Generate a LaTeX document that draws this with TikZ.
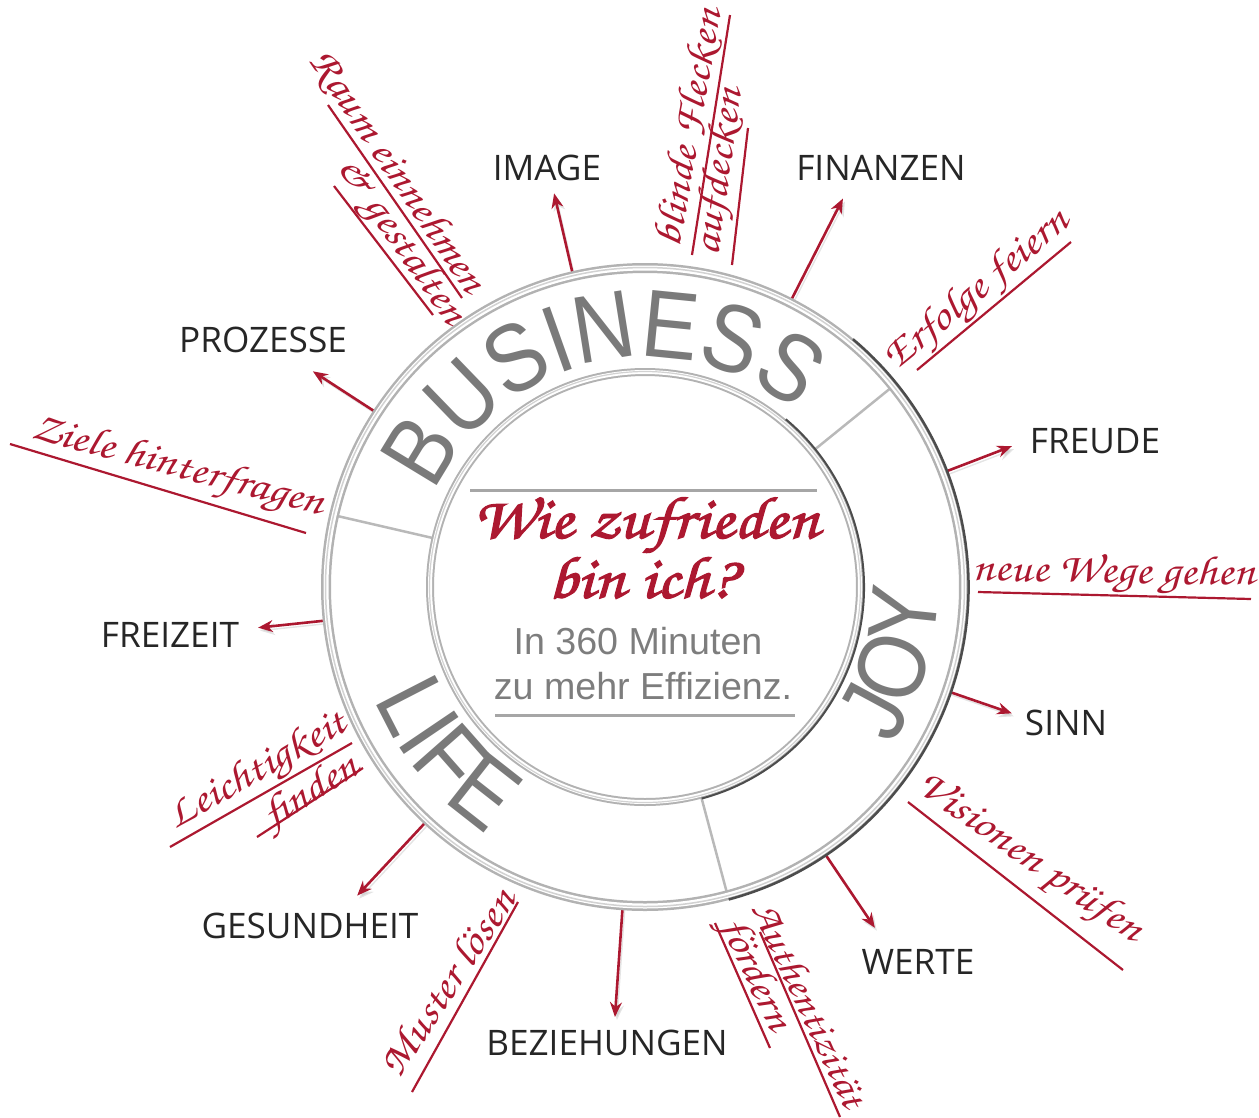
\documentclass[tikz,border=0pt]{standalone}
\usepackage{fontspec}
\setmainfont{Liberation Sans}
\newfontfamily\topicfont{Open Sans}
\newfontfamily\handfont[FakeStretch=1.15]{texgyrechorus-mediumitalic.otf}
\newfontfamily\askfont[FakeStretch=1.15,FakeBold=2]{texgyrechorus-mediumitalic.otf}
\newfontfamily\ringfam[FakeStretch=0.88]{Liberation Sans}
\usetikzlibrary{arrows.meta,calc,decorations.text}

\definecolor{markred}{RGB}{172,24,48}
\definecolor{ringgray}{RGB}{122,122,122}
\definecolor{textgray}{RGB}{125,125,125}
\newcommand\ringfont{\ringfam\fontsize{27.3pt}{30pt}\selectfont}

\begin{document}
\begin{tikzpicture}[x=0.1mm,y=0.1mm]
	\tikzstyle{topic}=[font=\topicfont\fontsize{10pt}{12pt}\selectfont, text=black!85]
	\tikzstyle{note}=[font=\handfont\fontsize{11.7pt}{13pt}\selectfont, text=markred, inner sep=0pt]
	\tikzstyle{noteline}=[draw=markred, line width=0.22mm]
	\tikzstyle{spoke}=[draw=markred, line width=0.26mm, -{Stealth[length=4.2pt,width=3.4pt]},
		preaction={draw=black!30, opacity=0.35, transform canvas={shift={(2,-3)}}}]
	\tikzstyle{divider}=[draw=gray!55, line width=0.25mm]
	\tikzstyle{fieldname}=[decorate, decoration={text along path, text align=center, text color=ringgray}]

	\useasboundingbox (0,0) rectangle (1259,-1118);
	\coordinate (C) at (645,-587);
	\node[circle, minimum size=63.8mm, inner sep=0pt] (ring) at (C) {};
	\node[circle, minimum size=43mm, inner sep=0pt] (core) at (C) {};

	% topics round the ring
	\node[topic] (image) at (547,-168) {IMAGE};
	\node[topic] (finanzen) at (881,-168) {FINANZEN};
	\node[topic] (freude) at (1095,-441) {FREUDE};
	\node[topic] (sinn) at (1066,-723) {SINN};
	\node[topic] (werte) at (918,-962) {WERTE};
	\node[topic] (beziehungen) at (607,-1043) {BEZIEHUNGEN};
	\node[topic] (gesundheit) at (310,-926) {GESUNDHEIT};
	\node[topic] (freizeit) at (170,-635) {FREIZEIT};
	\node[topic] (prozesse) at (263,-340) {PROZESSE};

	\coordinate (t-image) at ($(C)+(103:404)$);
	\coordinate (t-finanzen) at ($(C)+(63:436)$);
	\coordinate (t-freude) at ($(C)+(21:393)$);
	\coordinate (t-sinn) at ($(C)+(341:388)$);
	\coordinate (t-werte) at ($(C)+(304:411)$);
	\coordinate (t-beziehungen) at ($(C)+(266:431)$);
	\coordinate (t-gesundheit) at ($(C)+(227:422)$);
	\coordinate (t-freizeit) at ($(C)+(186:389)$);
	\coordinate (t-prozesse) at ($(C)+(147:396)$);

	\path
	(ring.103) edge[spoke] (t-image)
	(ring.63) edge[spoke] (t-finanzen)
	(ring.21) edge[spoke] (t-freude)
	(ring.341) edge[spoke] (t-sinn)
	(ring.304) edge[spoke] (t-werte)
	(ring.266) edge[spoke] (t-beziehungen)
	(ring.227) edge[spoke] (t-gesundheit)
	(ring.186) edge[spoke] (t-freizeit)
	(ring.147) edge[spoke] (t-prozesse);

	% handwritten notes
	\node[note, rotate=-56] (raum) at (397,-172) {Raum einnehmen};
	\node[note, rotate=-55] (gestalten) at (400,-242) {\& gestalten};
	\draw[noteline] (328,-105) -- (462,-298);
	\draw[noteline] (334,-186) -- (433,-315);
	\node[note, rotate=80] (blinde) at (690,-128) {blinde Flecken};
	\node[note, rotate=82] (aufdecken) at (721,-172) {aufdecken};
	\draw[noteline] (692,-255) -- (730,-15);
	\draw[noteline] (732,-265) -- (748,-128);
	\node[note, rotate=40] (erfolge) at (978,-291) {Erfolge feiern};
	\draw[noteline] (917,-370) -- (1071,-242);
	\node[note, rotate=-1] (wege) at (1114,-574) {neue Wege gehen};
	\draw[noteline] (978,-592) -- (1251,-599);
	\node[note, rotate=-35] (visionen) at (1029,-859) {Visionen prüfen};
	\draw[noteline] (908,-802) -- (1123,-970);
	\node[note, rotate=-65, font=\handfont\fontsize{11.2pt}{13pt}\selectfont] (authentizitaet) at (810,-1004) {Authentizität};
	\node[note, rotate=-65] (foerdern) at (754,-975) {fördern};
	\draw[noteline] (760,-932) -- (840,-1117);
	\draw[noteline] (715,-923) -- (770,-1048);
	\node[note, rotate=57] (muster) at (447,-982) {Muster lösen};
	\draw[noteline] (412,-1092) -- (518,-902);
	\node[note, rotate=30] (leicht) at (258,-772) {Leichtigkeit};
	\node[note, rotate=32] (finden) at (312,-793) {finden};
	\draw[noteline] (170,-847) -- (352,-743);
	\draw[noteline] (257,-837) -- (363,-768);
	\node[note, rotate=-15] (ziele) at (178,-468) {Ziele hinterfragen};
	\draw[noteline] (10,-444) -- (306,-533);

	% dividers between the three fields
	\path
	(core.39) edge[divider] (ring.39)
	(core.167) edge[divider] (ring.167)
	(core.285) edge[divider] (ring.285);

	% the two rings
	\draw[gray!60, line width=1mm] (C) circle (319);
	\draw[white, line width=0.5mm] (C) circle (319);
	\draw[gray!35, line width=0.15mm] (C) circle (319.5);
	\draw[black!70, line width=0.25mm] ($(C)+(-75:323.5)$) arc[start angle=-75, end angle=50, radius=323.5];
	\draw[gray!60, line width=0.8mm] (C) circle (215);
	\draw[white, line width=0.4mm] (C) circle (215);
	\draw[gray!35, line width=0.12mm] (C) circle (215.5);
	\draw[black!70, line width=0.2mm] ($(C)+(-75:219)$) arc[start angle=-75, end angle=50, radius=219];

	% field names
	\path[fieldname, decoration={text={|\ringfont|BUSINESS}}]
		($(C)+(164.5:230)$) arc[start angle=164.5, end angle=40.5, radius=230];
	\path[fieldname, decoration={text={|\ringfont|JOY}}]
		($(C)+(-56.5:293)$) arc[start angle=-56.5, end angle=23.5, radius=293];
	\path[fieldname, decoration={text={|\ringfont|LIFE}}]
		($(C)+(175:293)$) arc[start angle=175, end angle=265, radius=293];

	% centre
	\draw[gray!70, line width=0.3mm] (470,-490) -- (817,-490);
	\draw[gray!70, line width=0.3mm] (495,-715) -- (795,-715);
	\node[font=\askfont\fontsize{17pt}{20pt}\selectfont, text=markred, inner sep=0pt] (ask) at (646,-525) {Wie zufrieden};
	\node[font=\askfont\fontsize{17pt}{20pt}\selectfont, text=markred, inner sep=0pt] (askb) at (642,-578) {bin ich?};
	\node[font=\fontsize{10.7pt}{13pt}\selectfont, text=textgray] (claim) at (638,-641) {In 360 Minuten};
	\node[font=\fontsize{10.7pt}{13pt}\selectfont, text=textgray] (claimb) at (643,-686) {zu mehr Effizienz.};

\end{tikzpicture}
\end{document}
